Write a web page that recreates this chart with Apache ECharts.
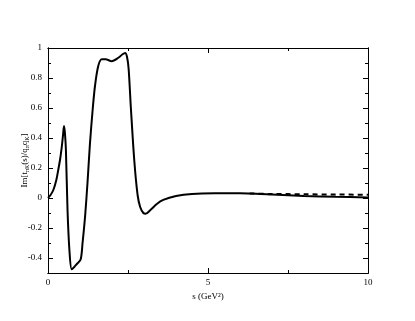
<!DOCTYPE html>
<html>
<head>
<meta charset="utf-8">
<script src="https://cdn.jsdelivr.net/npm/echarts@6/dist/echarts.min.js"></script>
<style>
  html, body { margin: 0; padding: 0; background: #fff; }
  #chart { width: 415px; height: 321px; }
</style>
</head>
<body>
<div id="chart"></div>
<script>
// s values (GeV^2) and Im part
const sSolid = [0, 0.08, 0.17, 0.26, 0.32, 0.38, 0.43, 0.47, 0.5, 0.53, 0.56, 0.61, 0.67, 0.74, 0.82, 0.9, 1.02, 1.08, 1.16, 1.24, 1.31, 1.4, 1.47, 1.57, 1.68, 1.8, 1.99, 2.2, 2.33, 2.41, 2.47, 2.52, 2.59, 2.7, 2.8, 2.88, 2.98, 3.05, 3.2, 3.4, 3.6, 4.0, 4.5, 5.2, 6.0, 6.5, 7.0, 8.0, 9.0, 10]
const imSolid = [0, 0.02, 0.055, 0.12, 0.187, 0.26, 0.34, 0.42, 0.48, 0.43, 0.32, -0.08, -0.35, -0.475, -0.46, -0.44, -0.41, -0.3, -0.12, 0.12, 0.36, 0.6, 0.75, 0.88, 0.925, 0.925, 0.912, 0.935, 0.958, 0.967, 0.94, 0.86, 0.6, 0.24, 0.02, -0.06, -0.1, -0.105, -0.08, -0.04, -0.013, 0.013, 0.027, 0.031, 0.031, 0.029, 0.024, 0.014, 0.008, 0.004]
const sDashed = [6.3, 7.0, 8.0, 9.0, 10]
const imDashed = [0.03, 0.027, 0.025, 0.023, 0.022]

const yLabels = [-0.4, -0.2, 0, 0.2, 0.4, 0.6, 0.8, 1]
const yMinor = [-0.5, -0.3, -0.1, 0.1, 0.3, 0.5, 0.7, 0.9]
const xLabels = [0, 5, 10]
const xMinor = [2.5, 7.5]

const font = 'Liberation Serif'
const ink = '#000'

function pairs(xs, ys) {
  return xs.map((x, i) => [x, ys[i]])
}

function xAxisOf(pos, values, len, showLabel, extra) {
  return Object.assign({
    type: 'value', position: pos, min: 0, max: 10,
    axisLine: { show: true, onZero: false, lineStyle: { color: ink, width: 1 } },
    axisTick: { show: true, inside: true, length: len, customValues: values, lineStyle: { color: ink } },
    axisLabel: { show: showLabel, customValues: values, fontFamily: font, fontSize: 9, color: ink, margin: 5 },
    splitLine: { show: false },
  }, extra || {})
}

function yAxisOf(pos, values, len, showLabel, extra) {
  return Object.assign({
    type: 'value', position: pos, min: -0.5, max: 1,
    axisLine: { show: true, onZero: false, lineStyle: { color: ink, width: 1 } },
    axisTick: { show: true, inside: true, length: len, customValues: values, lineStyle: { color: ink } },
    axisLabel: { show: showLabel, customValues: values, fontFamily: font, fontSize: 9, color: ink, margin: 6 },
    splitLine: { show: false },
  }, extra || {})
}

const chart = echarts.init(document.getElementById('chart'))

chart.setOption({
  animation: false,
  backgroundColor: '#fff',
  grid: { left: 48, right: 47, top: 48, bottom: 48 },
  xAxis: [
    xAxisOf('bottom', xLabels, 5, true, {
      name: 's (GeV²)', nameLocation: 'middle', nameGap: 14,
      nameTextStyle: { fontFamily: font, fontSize: 9, color: ink },
    }),
    xAxisOf('bottom', xMinor, 3, false),
    xAxisOf('top', xLabels, 5, false),
    xAxisOf('top', xMinor, 3, false),
  ],
  yAxis: [
    yAxisOf('left', yLabels, 5, true, {
      name: 'Im[t{sub|πK}(s)/q{sub|π}q{sub|K}]', nameLocation: 'middle', nameGap: 18,
      nameMoveOverlap: false,
      nameTextStyle: {
        fontFamily: font, fontSize: 9, color: ink,
        rich: { sub: { fontFamily: font, fontSize: 6, color: ink, verticalAlign: 'bottom', padding: [4, 0, 0, 0] } },
      },
    }),
    yAxisOf('left', yMinor, 3, false),
    yAxisOf('right', yLabels, 5, false),
    yAxisOf('right', yMinor, 3, false),
  ],
  series: [
    {
      type: 'line', xAxisIndex: 0, yAxisIndex: 0,
      data: pairs(sSolid, imSolid),
      smooth: 0.3, showSymbol: false,
      lineStyle: { color: ink, width: 2 },
    },
    {
      type: 'line', xAxisIndex: 0, yAxisIndex: 0,
      data: pairs(sDashed, imDashed),
      smooth: 0.3, showSymbol: false,
      lineStyle: { color: ink, width: 2, type: [5, 4] },
    },
  ],
})
</script>
</body>
</html>
